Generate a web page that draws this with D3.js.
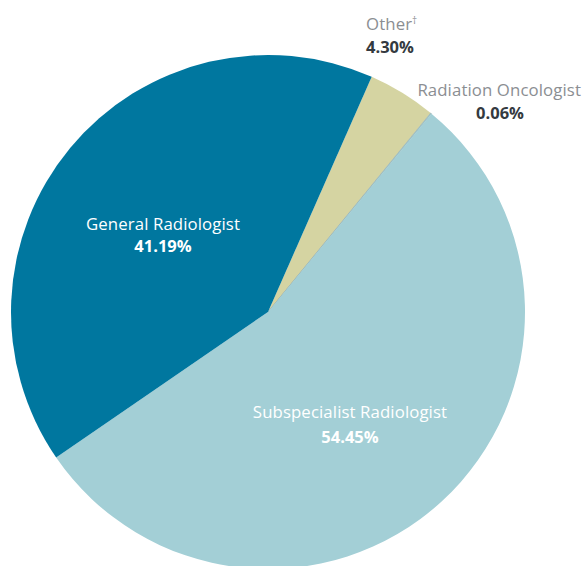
<!DOCTYPE html>
<html><head><meta charset="utf-8">
<script src="https://cdn.jsdelivr.net/npm/d3@7"></script>
<style>body{margin:0;background:#fff}svg{display:block}</style>
</head><body>
<script>
const categories = ["Other", "Radiation Oncologist", "Subspecialist Radiologist", "General Radiologist"];
const footnoteMarks = ["\u2020", "", "", ""];
const values = [4.30, 0.06, 54.45, 41.19];
const valueLabels = ["4.30%", "0.06%", "54.45%", "41.19%"];
const colors = ["#d5d4a2", "#a3cfd6", "#a3cfd6", "#00779f"];

const W = 584, H = 566;
const svg = d3.select("body").append("svg").attr("width", W).attr("height", H);
const cx = 268, cy = 312, r = 257;
const start = 23.8 * Math.PI / 180;
const pie = d3.pie().sort(null).value(d => d).startAngle(start).endAngle(start + 2 * Math.PI);
const arcs = pie(values);
const arc = d3.arc().innerRadius(0).outerRadius(r);
const g = svg.append("g").attr("transform", `translate(${cx},${cy})`);
g.selectAll("path").data(arcs).join("path")
  .attr("d", arc)
  .attr("fill", (d, i) => colors[i])
  .attr("stroke", (d, i) => i === 1 ? "#8fa9ad" : "none")
  .attr("stroke-width", 0.6);

const font = "'Open Sans', 'Noto Sans', sans-serif";
const labelPos = [
  {x: 366, yn: 30, yv: 53, anchor: "start", nc: "#8b8e92", vc: "#343a40", vx: 366},
  {x: 581, yn: 96, yv: 119, anchor: "end", nc: "#8b8e92", vc: "#343a40", vx: 500, va: "middle"},
  {x: 350, yn: 418, yv: 443, anchor: "middle", nc: "#ffffff", vc: "#ffffff", vx: 350},
  {x: 163, yn: 230, yv: 252, anchor: "middle", nc: "#ffffff", vc: "#ffffff", vx: 163}
];
categories.forEach((c, i) => {
  const p = labelPos[i];
  const t = svg.append("text").attr("x", p.x).attr("y", p.yn).attr("text-anchor", p.anchor)
    .attr("font-family", font).attr("font-size", 16.8).attr("fill", p.nc).attr("letter-spacing", 0.1);
  t.append("tspan").text(c);
  if (footnoteMarks[i]) t.append("tspan").attr("font-size", 10).attr("dy", -6).text(footnoteMarks[i]);
  svg.append("text").attr("x", p.vx).attr("y", p.yv).attr("text-anchor", p.va || p.anchor)
    .attr("font-family", font).attr("font-size", 16.5).attr("font-weight", "bold").attr("fill", p.vc).text(valueLabels[i]);
});
</script>
</body></html>
